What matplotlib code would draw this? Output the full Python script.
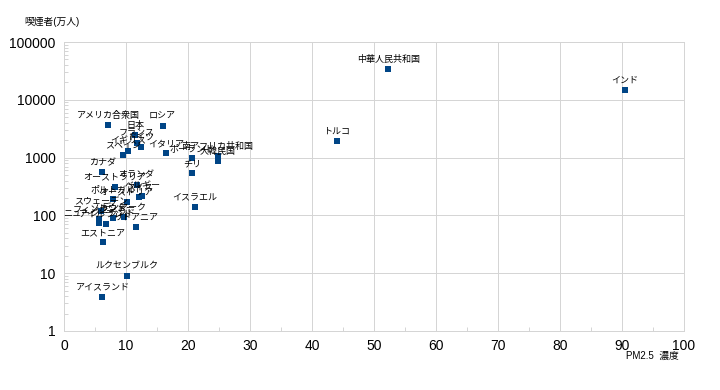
import matplotlib
matplotlib.use("Agg")
import matplotlib.pyplot as plt
from matplotlib.ticker import LogLocator, FixedLocator, NullFormatter

plt.rcParams['font.family'] = ['Liberation Sans', 'Noto Sans CJK JP', 'DejaVu Sans']

countries = ["中華人民共和国", "インド", "トルコ", "アメリカ合衆国", "ロシア", "日本",
             "フランス", "ドイツ", "イギリス", "スペイン", "イタリア", "ポーランド",
             "南アフリカ共和国", "大韓民国", "チリ", "イスラエル", "カナダ", "オーストラリア",
             "オランダ", "ポルトガル", "オーストリア", "スイス", "ベルギー", "スウェーデン",
             "フィンランド", "ニュージーランド", "アイルランド", "ノルウェー", "デンマーク",
             "リトアニア", "エストニア", "ルクセンブルク", "アイスランド"]
pm25 = [52.3, 90.5, 44.0, 7.15, 15.9, 11.45,
        11.8, 12.4, 10.3, 9.5, 16.45, 20.7,
        24.8, 24.8, 20.7, 21.1, 6.2, 8.2,
        11.7, 7.85, 10.1, 12.15, 12.65, 6.0,
        5.7, 5.7, 6.7, 7.95, 9.7,
        11.6, 6.3, 10.1, 6.2]
smokers = [34000, 14800, 1940, 3660, 3480, 2460,
           1810, 1500, 1300, 1120, 1190, 970,
           1070, 880, 535, 140, 557, 314,
           336, 190, 173, 211, 217, 119,
           87, 75, 70, 91, 93,
           62, 34, 9.1, 3.9]

xticks = [0, 10, 20, 30, 40, 50, 60, 70, 80, 90, 100]
yticks = [1, 10, 100, 1000, 10000, 100000]
ytick_labels = ["1", "10", "100", "1000", "10000", "100000"]

fig = plt.figure(figsize=(7.2, 3.9), dpi=100)
ax = fig.add_axes([64/720, 1-331/390, 620/720, 289/390])

grid_c = "#d4d4d4"
ax.scatter(pm25, smokers, marker="s", s=14, color="#004586", zorder=3, linewidths=0)
for name, x, y in zip(countries, pm25, smokers):
    ax.annotate(name, (x, y), xytext=(0, 7), textcoords="offset points",
                ha="center", va="center", fontsize=6.5, color="#000000", zorder=4)

ax.set_yscale("log")
ax.set_xlim(0, 100)
ax.set_ylim(1, 100000)
ax.set_xticks(xticks)
ax.set_xticklabels([str(t) for t in xticks])
ax.set_yticks(yticks)
ax.set_yticklabels(ytick_labels)
ax.yaxis.set_minor_locator(LogLocator(base=10, subs=range(2, 10)))
ax.yaxis.set_minor_formatter(NullFormatter())
ax.xaxis.set_minor_locator(FixedLocator([5, 15, 25, 35, 45, 55, 65, 75, 85, 95]))

ax.grid(True, which="major", color=grid_c, linewidth=0.7)
ax.set_axisbelow(True)
for s in ax.spines.values():
    s.set_color(grid_c)
    s.set_linewidth(0.7)
ax.tick_params(axis="both", which="major", length=0, labelsize=10, pad=6, colors="#000000")
ax.tick_params(axis="both", which="minor", direction="in", length=3, color=grid_c, width=0.7)

fig.text(24/720, 1-22/390, "喫煙者(万人)", fontsize=7, ha="left", va="center")
fig.text(652/720, 1-356/390, "PM2.5  濃度", fontsize=7, ha="center", va="center")

fig.savefig("out.png", dpi=100)
